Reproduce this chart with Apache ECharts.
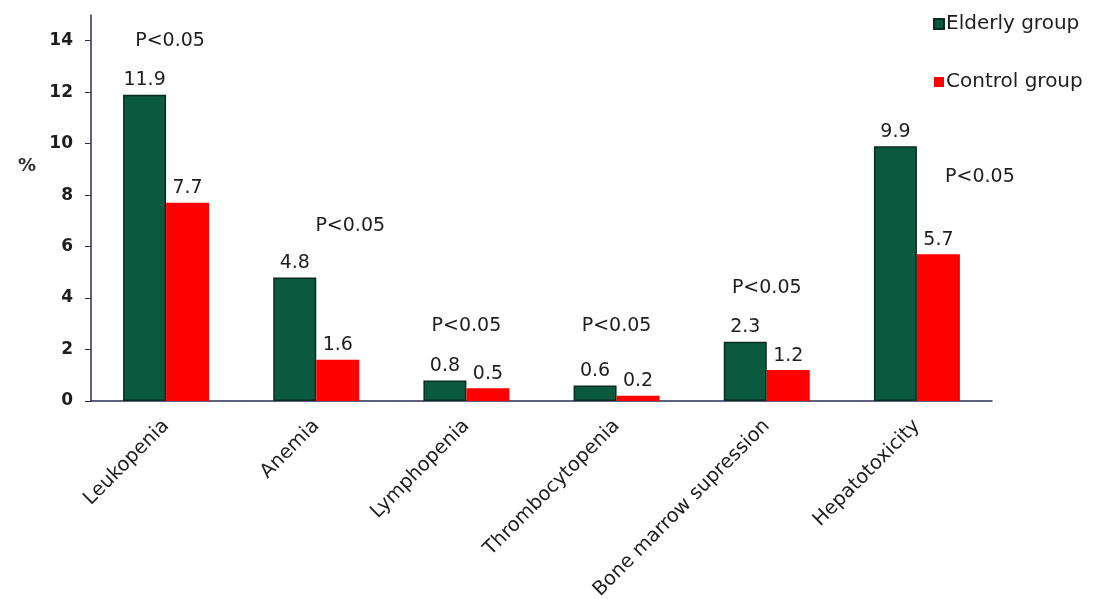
<!DOCTYPE html>
<html>
<head>
<meta charset="utf-8">
<script src="https://cdn.jsdelivr.net/npm/echarts@6/dist/echarts.min.js"></script>
<style>
  html, body { margin: 0; padding: 0; background: #fff; }
  #chart { width: 1094px; height: 599px; }
</style>
</head>
<body>
<div id="chart"></div>
<script>
// data
var categories = ['Leukopenia', 'Anemia', 'Lymphopenia', 'Thrombocytopenia', 'Bone marrow supression', 'Hepatotoxicity'];
var elderly = [11.9, 4.8, 0.8, 0.6, 2.3, 9.9];
var control = [7.7, 1.6, 0.5, 0.2, 1.2, 5.7];
var pText = 'P<0.05';
var pLevel = [14, 6.8, 2.9, 2.9, 4.4, 8.7]; // height of the P<0.05 notes
var pShift = [4, 34, 0, 0, 0, 63];          // horizontal shift of each note
var yTicks = [0, 2, 4, 6, 8, 10, 12, 14];

var font = 'DejaVu Sans, Verdana, sans-serif';
var ink = '#1e1e1e';
var myChart = echarts.init(document.getElementById('chart'));

var option = {
    backgroundColor: '#ffffff',
    animation: false,
    textStyle: { fontFamily: font },
    grid: { left: 91, right: 102, top: 15, bottom: 198, outerBoundsMode: 'none', containLabel: false },
    legend: {
        orient: 'vertical',
        left: 928,
        top: 9,
        itemWidth: 10,
        itemHeight: 10,
        itemGap: 38,
        icon: 'rect',
        data: ['Elderly group', 'Control group'],
        textStyle: { fontFamily: font, fontSize: 20, color: ink, padding: [0, 0, 0, -3] }
    },
    graphic: [{
        type: 'text',
        left: 18,
        top: 157,
        style: { text: '%', fontFamily: font, fontSize: 18, fontWeight: 'bold', fill: '#333' }
    }],
    xAxis: {
        type: 'category',
        data: categories,
        axisLine: { lineStyle: { color: '#2a2d55', width: 1.5 } },
        axisTick: { show: false },
        axisLabel: {
            rotate: 45,
            margin: 22,
            fontFamily: font,
            fontSize: 19.5,
            color: ink
        }
    },
    yAxis: {
        type: 'value',
        min: 0,
        max: 15,
        interval: 1,
        splitLine: { show: false },
        axisLine: { show: true, lineStyle: { color: '#2a2d55', width: 1.5 } },
        axisTick: { show: true, length: 6, customValues: yTicks, lineStyle: { color: '#2a2d55' } },
        axisLabel: {
            customValues: yTicks,
            margin: 18,
            fontFamily: font,
            fontSize: 17,
            fontWeight: 'bold',
            color: ink
        }
    },
    series: [{
        name: 'Elderly group',
        type: 'bar',
        data: elderly,
        barWidth: 43,
        barGap: '0%',
        itemStyle: { color: '#0b5a40', borderColor: '#0a2b20', borderWidth: 1.5 },
        label: { show: true, position: 'top', distance: 5, fontFamily: font, fontSize: 19, color: ink }
    }, {
        name: 'Control group',
        type: 'bar',
        data: control,
        barWidth: 43,
        itemStyle: { color: '#ff0000' },
        label: { show: true, position: 'top', distance: 5, fontFamily: font, fontSize: 19, color: ink }
    }, {
        name: 'note',
        type: 'scatter',
        symbolSize: 0,
        silent: true,
        itemStyle: { opacity: 1 },
        data: pLevel.map(function (v, i) {
            return {
                value: [categories[i], v],
                label: { offset: [pShift[i], 0] }
            };
        }),
        label: {
            show: true,
            position: 'inside',
            formatter: pText,
            fontFamily: font,
            fontSize: 19,
            color: ink
        }
    }]
};

myChart.setOption(option);
</script>
</body>
</html>
